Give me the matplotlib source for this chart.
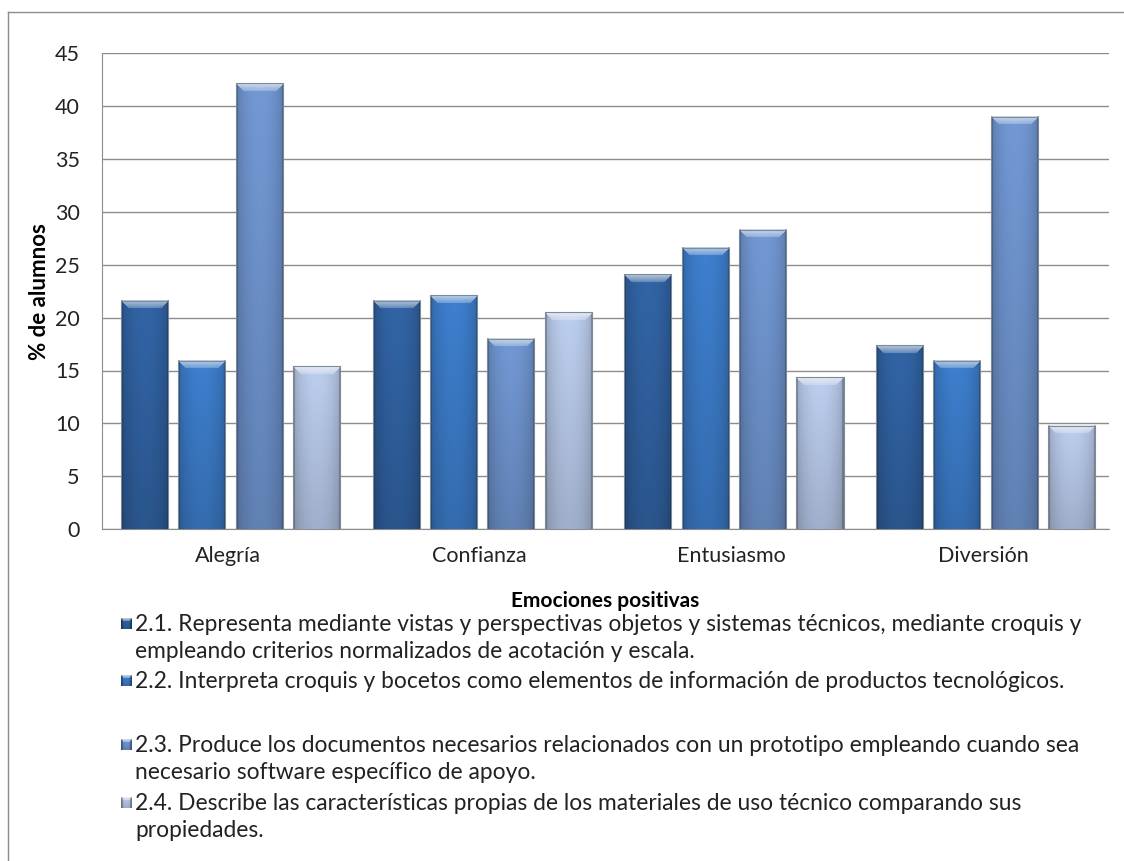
import numpy as np
import matplotlib.pyplot as plt
from matplotlib.colors import to_rgb
from matplotlib.lines import Line2D

categorias = ['Alegría', 'Confianza', 'Entusiasmo', 'Diversión']
serie_21 = [21.6, 21.6, 24.1, 17.4]
serie_22 = [15.9, 22.1, 26.6, 15.9]
serie_23 = [42.2, 18.0, 28.3, 39.0]
serie_24 = [15.4, 20.5, 14.35, 9.75]
series = [serie_21, serie_22, serie_23, serie_24]

etiquetas = [
    '2.1. Representa mediante vistas y perspectivas objetos y sistemas técnicos, mediante croquis y\n'
    'empleando criterios normalizados de acotación y escala.',
    '2.2. Interpreta croquis y bocetos como elementos de información de productos tecnológicos.',
    '2.3. Produce los documentos necesarios relacionados con un prototipo empleando cuando sea\n'
    'necesario software específico de apoyo.',
    '2.4. Describe las características propias de los materiales de uso técnico comparando sus\n'
    'propiedades.',
]
colores = ['#2F5F9D', '#3A78C3', '#6C90C9', '#B2C3E2']

W, H = 1124, 861
plt.rcParams['font.family'] = ['Lato', 'DejaVu Sans']


def degradado(w, h, color, bisel=8):
    """Relleno con sombreado tipo Excel: bordes oscuros, bisel claro arriba."""
    base = np.array(to_rgb(color))
    xs = np.linspace(0, 1, w)
    ys = np.linspace(0, 1, h)[:, None]
    horiz = 0.80 + 0.22 * np.sin(np.pi * xs) ** 0.6
    vert = 1.04 - 0.16 * ys
    img = base[None, None, :] * (horiz[None, :] * vert)[:, :, None]
    # bisel superior
    claro = base * 0.35 + 0.65
    for r in range(min(bisel, h)):
        a = 1 - r / (bisel * 1.5)
        img[r, r:w - r] = claro * a + img[r, r:w - r] * (1 - a)
    # bordes laterales oscuros
    img[:, :2] *= 0.8
    img[:, -2:] *= 0.8
    return np.clip(img, 0, 1)


fig = plt.figure(figsize=(W / 100, H / 100), dpi=100)
ax = fig.add_axes([102 / W, 1 - 529 / H, (1109 - 102) / W, (529 - 53.5) / H])

ancho, paso = 0.187, 0.228
x = np.arange(len(categorias))

px_x = (1109 - 102) / len(categorias)
px_y = (529 - 53.5) / 45

for i, (valores, color) in enumerate(zip(series, colores)):
    pos = x + (i - 1.5) * paso + 0.01
    barras = ax.bar(pos, valores, ancho, color=color, edgecolor='none', zorder=2)
    for b in barras:
        w = max(int(b.get_width() * px_x), 2)
        h = max(int(b.get_height() * px_y), 2)
        img = degradado(w, h, color)
        ax.imshow(img, extent=[b.get_x(), b.get_x() + b.get_width(), 0, b.get_height()],
                  aspect='auto', zorder=3, interpolation='bilinear')
        ax.add_line(Line2D([b.get_x(), b.get_x(), b.get_x() + b.get_width(), b.get_x() + b.get_width()],
                           [0, b.get_height(), b.get_height(), 0],
                           color='#7F8A99', lw=0.8, zorder=4))

ax.set_xlim(-0.5, len(categorias) - 0.5)
ax.set_ylim(0, 45)
ax.set_yticks(range(0, 46, 5))
ax.set_xticks(x)
ax.set_xticklabels(categorias)
ax.yaxis.grid(True, color='#8C8C8C', lw=1)
ax.set_axisbelow(True)
for s in ['top', 'right']:
    ax.spines[s].set_visible(False)
for s in ['left', 'bottom']:
    ax.spines[s].set_color('#8C8C8C')
ax.tick_params(axis='both', length=0, labelsize=15.5, colors='#222222')
ax.tick_params(axis='y', pad=16)
ax.tick_params(axis='x', pad=12)
ax.set_ylabel('% de alumnos', fontsize=16, fontweight='bold')
ax.yaxis.set_label_coords(-(102 - 50) / (1109 - 102), 0.5)
ax.set_xlabel('Emociones positivas', fontsize=15, fontweight='bold', labelpad=18)

# leyenda dibujada a mano, alineada a la izquierda bajo el eje
filas = [624, 681, 745, 803]
for y, etiqueta, color in zip(filas, etiquetas, colores):
    ax_m = fig.add_axes([121 / W, 1 - (y + 5) / H, 11 / W, 11 / H])
    ax_m.imshow(degradado(11, 11, color, bisel=3), aspect='auto', interpolation='bilinear')
    ax_m.axis('off')
    fig.text(135 / W, 1 - (y - 10) / H, etiqueta, fontsize=16.4, va='top', ha='left',
             color='#222222', linespacing=1.38)

# marco exterior del gráfico
fig.add_artist(Line2D([8 / W, 8 / W], [0, 1 - 12 / H], color='#8C8C8C', lw=1))
fig.add_artist(Line2D([8 / W, 1], [1 - 12 / H, 1 - 12 / H], color='#8C8C8C', lw=1))

fig.savefig('out.png', dpi=100)
